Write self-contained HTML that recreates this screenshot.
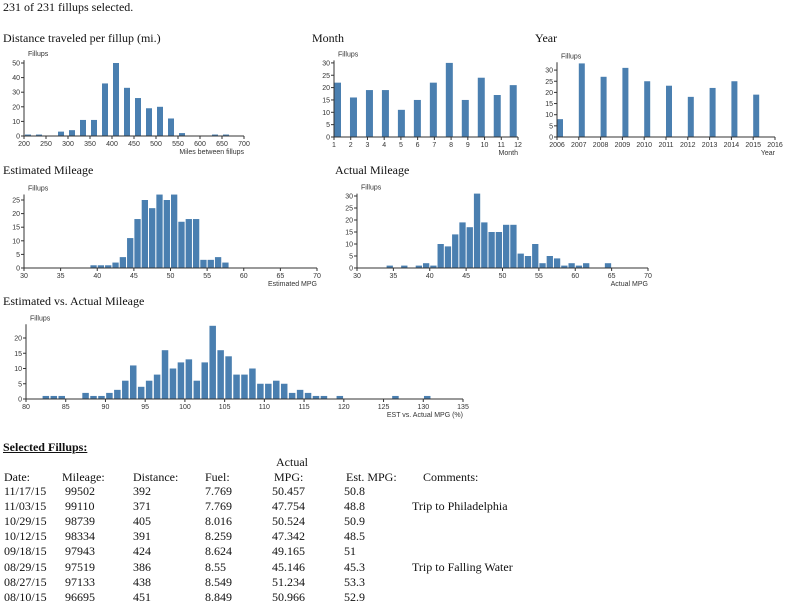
<!DOCTYPE html>
<html><head><meta charset="utf-8"><style>
body{margin:0;width:787px;height:600px;background:#fff;overflow:hidden;position:relative;font-family:"Liberation Serif",serif;color:#111}
.t{position:absolute;font-size:12px;white-space:nowrap}
svg{position:absolute;left:0;top:0}
svg text{font-family:"Liberation Sans",sans-serif;font-size:7px;fill:#333}
</style></head><body>
<div class="t" style="left:3px;top:0px">231 of 231 fillups selected.</div>
<div class="t" style="left:3px;top:31px">Distance traveled per fillup (mi.)</div>
<div class="t" style="left:312px;top:31px">Month</div>
<div class="t" style="left:535px;top:31px">Year</div>
<div class="t" style="left:3px;top:163px">Estimated Mileage</div>
<div class="t" style="left:335px;top:163px">Actual Mileage</div>
<div class="t" style="left:3px;top:294px">Estimated vs. Actual Mileage</div>
<div class="t" style="left:3px;top:440px;font-weight:bold;text-decoration:underline">Selected Fillups:</div>
<div id="tbl"></div>
<svg id="s" width="787" height="600"></svg>
<script>
var S='';
function chart(o){
 // o: x0,y0 (origin), xmin,xmax,xpx (px at xmax), ymaxpx (px per unit), ytop, yticks, xticks, bars [[x,v]], bw, xlabel
 var x0=o.x0,y0=o.y0;
 function X(v){return x0+(v-o.xmin)/(o.xmax-o.xmin)*o.w;}
 function Y(v){return y0-v*o.k;}
 o.bars.forEach(function(b){ if(b[1]>0) S+='<rect x="'+(X(b[0])+(o.off||0))+'" y="'+Y(b[1])+'" width="'+o.bw+'" height="'+(b[1]*o.k)+'" fill="#4a7fb0"/>';});
 S+='<line x1="'+x0+'" y1="'+y0+'" x2="'+(x0+o.w)+'" y2="'+y0+'" stroke="#333" stroke-width="1"/>';
 S+='<line x1="'+x0+'" y1="'+y0+'" x2="'+x0+'" y2="'+Y(o.ytop)+'" stroke="#333" stroke-width="1"/>';
 o.yt.forEach(function(v){S+='<line x1="'+(x0-3)+'" y1="'+Y(v)+'" x2="'+x0+'" y2="'+Y(v)+'" stroke="#333"/><text x="'+(x0-4)+'" y="'+(Y(v)+2.5)+'" text-anchor="end">'+v+'</text>';});
 o.xt.forEach(function(v){S+='<line x1="'+X(v)+'" y1="'+y0+'" x2="'+X(v)+'" y2="'+(y0+3)+'" stroke="#333"/><text x="'+X(v)+'" y="'+(y0+10)+'" text-anchor="middle">'+v+'</text>';});
 S+='<text x="'+(x0+4)+'" y="'+(Y(o.ytop)-4)+'">Fillups</text>';
 S+='<text x="'+(x0+o.w)+'" y="'+(y0+18)+'" text-anchor="end">'+o.xl+'</text>';
}
function rng(a,b,s){var r=[];for(var v=a;v<=b+1e-9;v+=s)r.push(v);return r;}
function pairs(start,step,arr){return arr.map(function(v,i){return [start+i*step,v];});}
chart({x0:24,y0:136,xmin:200,xmax:700,w:220,k:1.46,ytop:52,yt:rng(0,50,10),xt:rng(200,700,50),bw:6,off:1,xl:'Miles between fillups',
 bars:pairs(200,25,[1,1,0,3,4,11,11,36,50,33,26,19,20,12,2,0,0,1,1])});
chart({x0:334,y0:137,xmin:1,xmax:12,w:184,k:2.47,ytop:31,yt:rng(0,30,5),xt:rng(1,12,1),bw:7,off:0,xl:'Month',
 bars:[22,16,19,19,11,15,22,30,15,24,17,21].map(function(v,i){return [1+i*0.955,v];})});
chart({x0:557,y0:137,xmin:2006,xmax:2016,w:218,k:2.23,ytop:33.5,yt:rng(0,30,5),xt:rng(2006,2016,1),bw:6,off:0,xl:'Year',
 bars:pairs(2006,1,[8,33,27,31,25,23,18,22,25,19])});
chart({x0:24,y0:268,xmin:30,xmax:70,w:293,k:2.72,ytop:27,yt:rng(0,25,5),xt:rng(30,70,5),bw:6.3,off:0.5,xl:'Estimated MPG',
 bars:pairs(39,1,[1,1,1,2,4,11,18,25,22,27,25,27,17,18,18,3,3,4,2])});
chart({x0:357,y0:268,xmin:30,xmax:70,w:291,k:2.4,ytop:31,yt:rng(0,30,5),xt:rng(30,70,5),bw:6.3,off:0.5,xl:'Actual MPG',
 bars:pairs(34,1,[1,0,1,0,1,2,1,10,9,14,19,17,31,19,15,15,18,18,6,5,10,2,5,4,1,2,1,2,0,0,2])});
chart({x0:26,y0:399,xmin:80,xmax:135,w:437,k:3.05,ytop:24.5,yt:rng(0,20,5),xt:rng(80,135,5),bw:6.5,off:0.7,xl:'EST vs. Actual MPG (%)',
 bars:pairs(82,1,[1,1,1,0,0,2,1,1,2,3,6,11,4,6,8,16,10,12,13,6,12,24,16,14,8,8,10,5,5,6,5,2,3,2,1,1,0,1,0,0,0,0,0,0,1,0,0,0,1])});
document.getElementById('s').innerHTML=S;
var cols=[4,65,133,205,272,344,412];
var rows=[["11/17/15","99502","392","7.769","50.457","50.8",""],["11/03/15","99110","371","7.769","47.754","48.8","Trip to Philadelphia"],["10/29/15","98739","405","8.016","50.524","50.9",""],["10/12/15","98334","391","8.259","47.342","48.5",""],["09/18/15","97943","424","8.624","49.165","51",""],["08/29/15","97519","386","8.55","45.146","45.3","Trip to Falling Water"],["08/27/15","97133","438","8.549","51.234","53.3",""],["08/10/15","96695","451","8.849","50.966","52.9",""]];
var h='';
var hd=[[4,"Date:"],[62,"Mileage:"],[133,"Distance:"],[205,"Fuel:"],[274,"MPG:"],[346,"Est. MPG:"],[423,"Comments:"]];
hd.forEach(function(c){h+='<div class="t" style="left:'+c[0]+'px;top:470px">'+c[1]+'</div>';});
h+='<div class="t" style="left:276px;top:455px">Actual</div>';
rows.forEach(function(r,i){r.forEach(function(c,j){if(c)h+='<div class="t" style="left:'+cols[j]+'px;top:'+(484+i*15.1)+'px">'+c+'</div>';});});
document.getElementById('tbl').innerHTML=h;
</script>
</body></html>
